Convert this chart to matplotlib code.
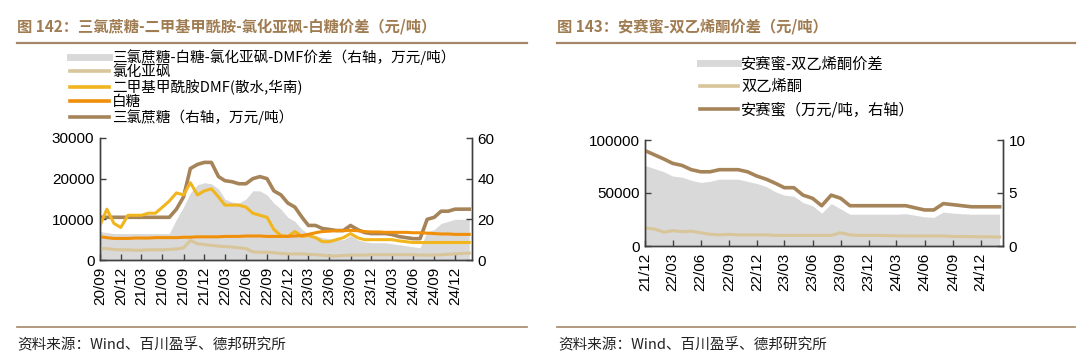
import matplotlib
matplotlib.use("Agg")
import matplotlib.pyplot as plt
import matplotlib.dates as mdates
from matplotlib.lines import Line2D
import pandas as pd

# ── data: left chart (monthly, 2020/09 – 2025/02) ─────────────────────────
left_months = pd.date_range("2020-09-01", periods=54, freq="MS")

# 三氯蔗糖, 万元/吨 (right axis)
sucralose = [21, 21, 21, 21, 21, 21, 21, 21, 21, 21,
             21, 25, 31, 45, 47, 48, 48, 41, 39, 38.5,
             37.5, 37.5, 40, 41, 40, 34, 32, 28, 26, 21,
             17, 17, 15.5, 15, 14.5, 14.5, 17, 15, 13.5, 13,
             13, 13, 12.5, 11.5, 11, 10.5, 10.5, 20, 21, 24,
             24, 25, 25, 25]
# 价差, 万元/吨 (right axis)
spread_left = [14, 13.5, 13, 13, 13, 13, 13, 13, 13, 13,
               13, 20, 26, 33, 37, 38, 37.5, 35, 30, 28.5,
               28, 30, 34, 34, 32, 28, 25, 21, 19, 15,
               13, 12, 11, 10.5, 10, 10, 12, 10, 9, 8.5,
               8.5, 8.5, 8, 7.5, 7, 6.5, 6, 14, 15, 18,
               19, 20, 20, 20]
# 二甲基甲酰胺DMF, 元/吨
dmf = [8500, 12500, 9000, 8000, 11000, 11000, 11000, 11500, 11500, 13000,
       14500, 16500, 16000, 19000, 16000, 17000, 17500, 15500, 13500, 13500,
       13500, 13000, 11500, 11000, 10500, 7500, 6000, 5800, 7000, 5800,
       6000, 5500, 4500, 4500, 5000, 5500, 6500, 5500, 5000, 5000,
       5000, 5000, 5000, 4700, 4500, 4300, 4300, 4300, 4300, 4300,
       4300, 4300, 4300, 4300]
# 白糖, 元/吨
sugar = [5700, 5500, 5300, 5300, 5300, 5400, 5400, 5400, 5500, 5500,
         5500, 5500, 5600, 5600, 5700, 5700, 5700, 5700, 5800, 5800,
         5800, 5900, 5900, 5900, 5800, 5800, 5800, 5800, 5900, 6000,
         6300, 6700, 7000, 7100, 7200, 7200, 7300, 7200, 7000, 6900,
         6900, 6800, 6800, 6800, 6800, 6700, 6700, 6600, 6500, 6400,
         6400, 6300, 6300, 6300]
# 氯化亚砜, 元/吨
thionyl = [2800, 2800, 2600, 2500, 2500, 2400, 2400, 2500, 2500, 2500,
           2600, 2700, 3000, 4800, 4000, 3800, 3600, 3400, 3300, 3200,
           3000, 2800, 2000, 1900, 1900, 1800, 1600, 1500, 1500, 1500,
           1400, 1300, 1200, 1000, 1000, 1100, 1200, 1200, 1200, 1300,
           1300, 1300, 1300, 1300, 1300, 1300, 1200, 1200, 1200, 1300,
           1400, 1500, 1600, 1700]

# ── data: right chart (monthly, 2021/12 – 2025/02) ────────────────────────
right_months = pd.date_range("2021-12-01", periods=39, freq="MS")

# 安赛蜜, 万元/吨 (right axis)
acesulfame = [9.0, 8.6, 8.2, 7.8, 7.6, 7.2, 7.0, 7.0, 7.2, 7.2,
              7.2, 7.0, 6.6, 6.3, 5.9, 5.5, 5.5, 4.8, 4.5, 3.8,
              4.8, 4.5, 3.8, 3.8, 3.8, 3.8, 3.8, 3.8, 3.8, 3.6,
              3.4, 3.4, 4.0, 3.9, 3.8, 3.7, 3.7, 3.7, 3.7]
# 双乙烯酮, 元/吨
diketene = [17000, 16000, 13000, 14500, 13500, 14000, 12500, 11000, 10500, 11000,
            10500, 10500, 10500, 10500, 10000, 10000, 10000, 10000, 10000, 10000,
            10000, 12500, 10500, 10000, 10000, 10000, 9800, 9600, 9500, 9500,
            9500, 9500, 9500, 9000, 9000, 8800, 8700, 8600, 8500]
# 安赛蜜-双乙烯酮价差, 元/吨
spread_right = [76000, 73000, 70000, 66000, 65000, 62000, 60000, 61000, 63000, 63000,
                63000, 61000, 59000, 56000, 51000, 48000, 47000, 41000, 38000, 31000,
                40000, 35000, 30000, 30000, 30000, 30000, 30000, 30000, 30500, 29000,
                27500, 27000, 32000, 31000, 30500, 30000, 30000, 30000, 30000]

# ── styling ──────────────────────────────────────────────────────────────
plt.rcParams["font.family"] = ["Liberation Sans", "Noto Sans CJK SC"]
CJK = ["Noto Sans CJK SC", "Liberation Sans"]
GRAY = "#d9d9d9"
BEIGE = "#d8c59a"
YELLOW = "#f1b51e"
ORANGE = "#f0900a"
BROWN = "#a6845a"
TITLE_C = "#a07c52"
RULE_C = "#a38767"
AXIS_C = "#404040"

W, H = 1080, 356
fig = plt.figure(figsize=(W / 100, H / 100), dpi=100)


def px_axes(x0, x1, ytop, ybot):
    return fig.add_axes([x0 / W, 1 - ybot / H, (x1 - x0) / W, (ybot - ytop) / H])


def style(ax, ax2, ticks, xmin, xmax):
    for a in (ax, ax2):
        a.spines["top"].set_visible(False)
        for s in ("left", "right", "bottom"):
            a.spines[s].set_color(AXIS_C)
            a.spines[s].set_linewidth(1)
        a.tick_params(direction="in", length=4, width=1, color=AXIS_C,
                      labelsize=11, pad=4)
    ax.set_xlim(xmin, xmax)
    ax.set_xticks(ticks)
    ax.xaxis.set_major_formatter(mdates.DateFormatter("%y/%m"))
    ax.tick_params(axis="x", rotation=90, pad=5)


def frame(x0, x1, title, src_x):
    fig.text(x0 / W, 1 - 27 / H, title, fontsize=11, weight="bold",
             color=TITLE_C, va="center", family=CJK)
    fig.add_artist(Line2D([x0 / W, x1 / W], [1 - 43 / H] * 2, color=RULE_C, lw=1.6))
    fig.add_artist(Line2D([x0 / W, x1 / W], [1 - 327 / H] * 2, color=RULE_C, lw=1.2))
    fig.text(src_x / W, 1 - 345 / H, "资料来源：Wind、百川盈孚、德邦研究所",
             fontsize=10.5, color="#222222", va="center", family=CJK)


# ── left chart ───────────────────────────────────────────────────────────
axL = px_axes(100, 472, 138, 260)
axL2 = axL.twinx()
axL2.fill_between(left_months, 0, spread_left, color=GRAY, lw=0)
axL2.plot(left_months, sucralose, color=BROWN, lw=2.6)
axL.plot(left_months, thionyl, color=BEIGE, lw=2.2)
axL.plot(left_months, dmf, color=YELLOW, lw=2.2)
axL.plot(left_months, sugar, color=ORANGE, lw=2.2)
axL.set_zorder(axL2.get_zorder() + 1)
axL.patch.set_visible(False)
axL.set_ylim(0, 30000)
axL.set_yticks([0, 10000, 20000, 30000])
axL2.set_ylim(0, 60)
axL2.set_yticks([0, 20, 40, 60])
style(axL, axL2, pd.date_range("2020-09-01", "2024-12-01", freq="3MS"),
      pd.Timestamp("2020-09-01"), pd.Timestamp("2025-02-13"))

handles_L = [Line2D([], [], color=GRAY, lw=5),
             Line2D([], [], color=BEIGE, lw=2.6),
             Line2D([], [], color=YELLOW, lw=2.6),
             Line2D([], [], color=ORANGE, lw=2.6),
             Line2D([], [], color=BROWN, lw=2.6)]
labels_L = ["三氯蔗糖-白糖-氯化亚砜-DMF价差（右轴，万元/吨）", "氯化亚砜",
            "二甲基甲酰胺DMF(散水,华南)", "白糖", "三氯蔗糖（右轴，万元/吨）"]
fig.legend(handles_L, labels_L, loc="upper left", bbox_to_anchor=(70 / W, 1 - 49 / H),
           frameon=False, prop={"family": CJK, "size": 10.5}, handlelength=2.7,
           handletextpad=0.2, labelspacing=0.02, borderpad=0, borderaxespad=0)
frame(17, 527, "图 142：三氯蔗糖-二甲基甲酰胺-氯化亚砜-白糖价差（元/吨）", 17)

# ── right chart ──────────────────────────────────────────────────────────
axR = px_axes(645, 1003, 140, 246)
axR2 = axR.twinx()
axR.fill_between(right_months, 0, spread_right, color=GRAY, lw=0)
axR.plot(right_months, diketene, color=BEIGE, lw=2.2)
axR2.plot(right_months, acesulfame, color=BROWN, lw=2.6)
axR.set_ylim(0, 100000)
axR.set_yticks([0, 50000, 100000])
axR2.set_ylim(0, 10)
axR2.set_yticks([0, 5, 10])
style(axR, axR2, pd.date_range("2021-12-01", "2024-12-01", freq="3MS"),
      pd.Timestamp("2021-12-01"), pd.Timestamp("2025-02-12"))

handles_R = [Line2D([], [], color=GRAY, lw=5),
             Line2D([], [], color=BEIGE, lw=2.6),
             Line2D([], [], color=BROWN, lw=2.6)]
labels_R = ["安赛蜜-双乙烯酮价差", "双乙烯酮", "安赛蜜（万元/吨，右轴）"]
fig.legend(handles_R, labels_R, loc="upper left", bbox_to_anchor=(700 / W, 1 - 55 / H),
           frameon=False, prop={"family": CJK, "size": 11}, handlelength=2.5,
           handletextpad=0.2, labelspacing=0.4, borderpad=0, borderaxespad=0)
frame(557, 1075, "图 143：安赛蜜-双乙烯酮价差（元/吨）", 558)

fig.savefig("out.png", dpi=100)
